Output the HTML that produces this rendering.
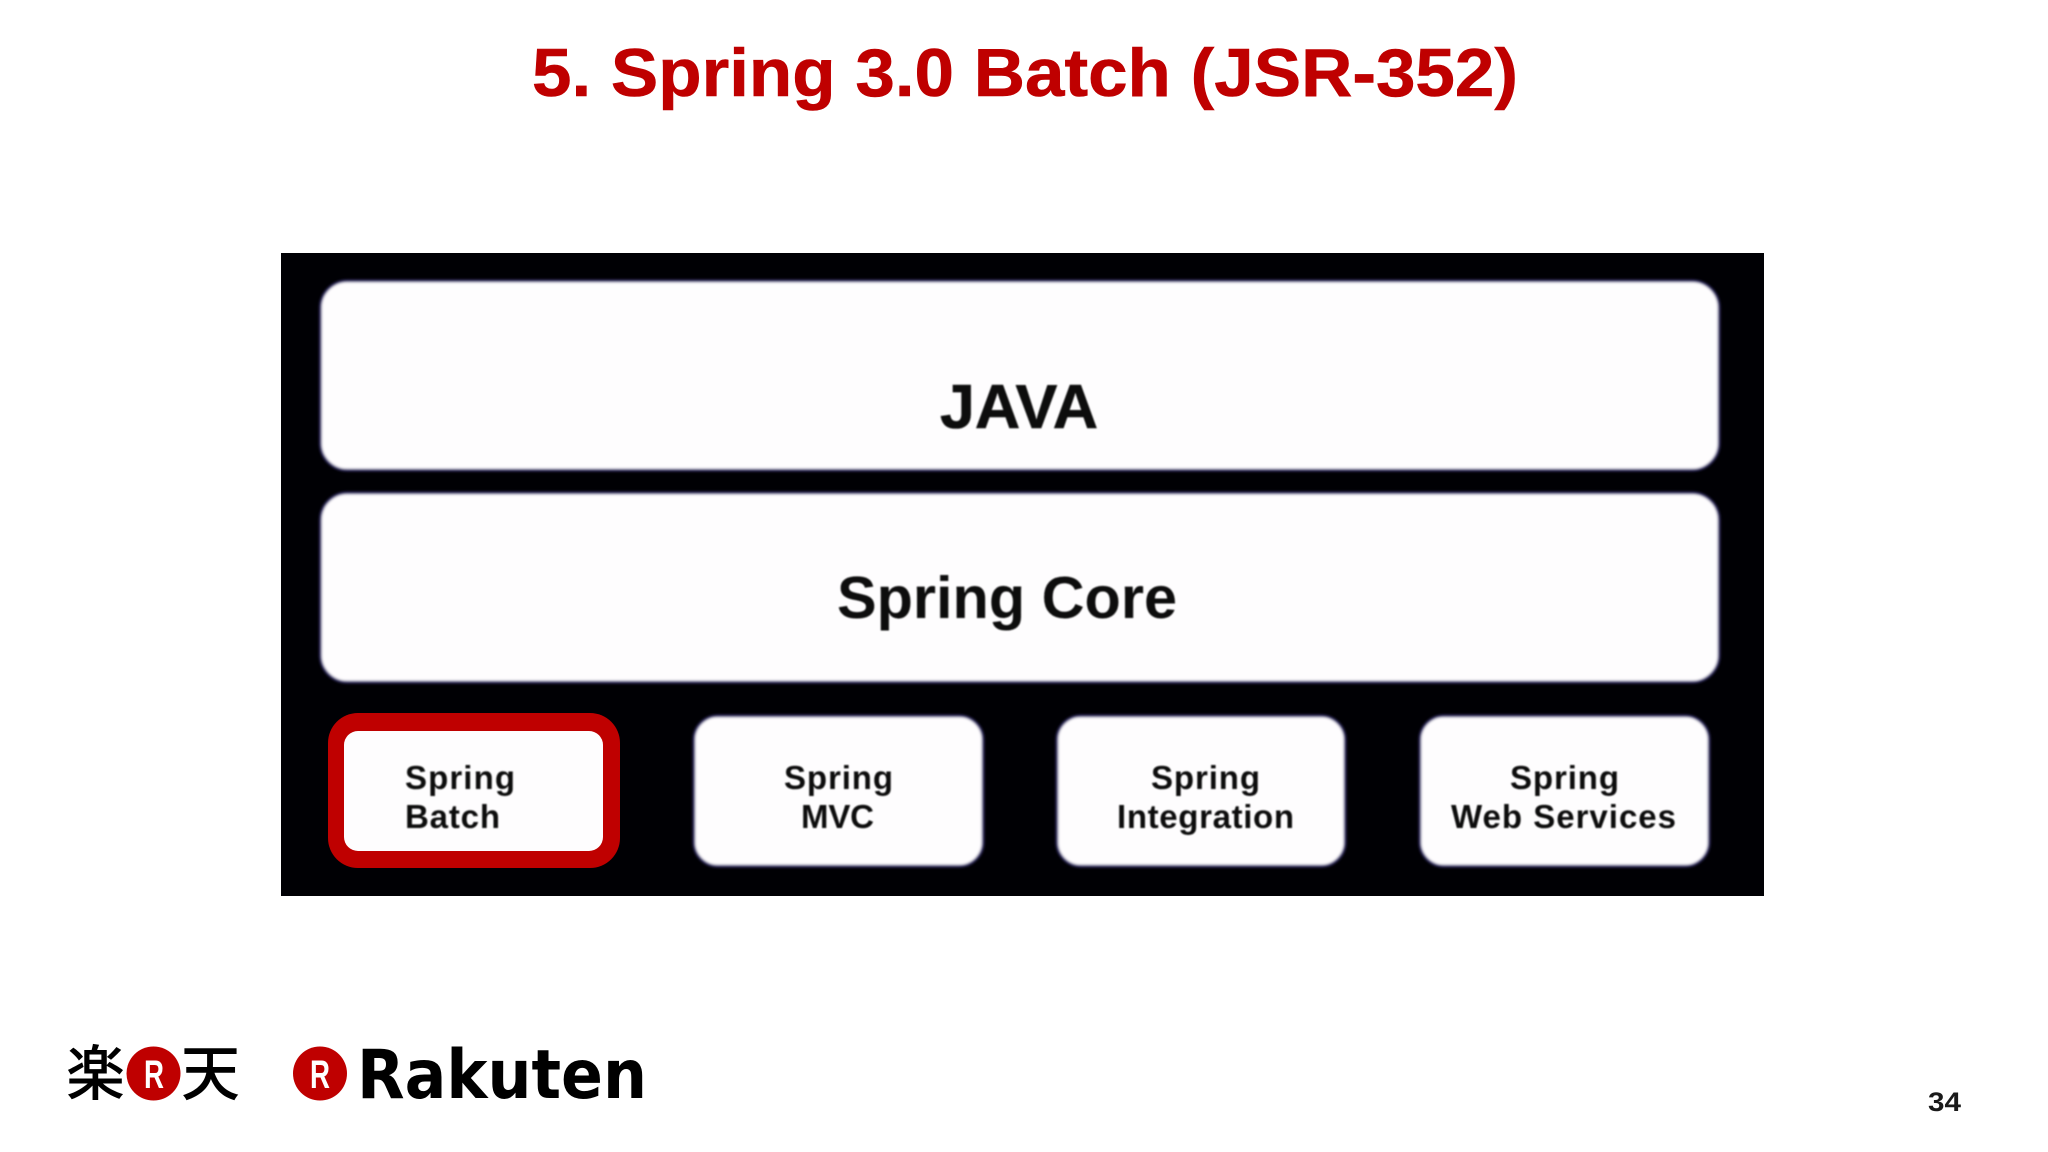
<!DOCTYPE html>
<html><head><meta charset="utf-8"><style>
html,body{margin:0;padding:0;background:#fff;width:2048px;height:1152px;overflow:hidden}
svg{display:block}
text{font-family:"Liberation Sans","Noto Sans CJK JP",sans-serif;font-weight:bold}
</style></head><body>
<svg width="2048" height="1152" viewBox="0 0 2048 1152" xmlns="http://www.w3.org/2000/svg">
<defs>
<filter id="b" x="-5%" y="-5%" width="110%" height="110%"><feGaussianBlur stdDeviation="1.2"/></filter>
<filter id="t" x="-5%" y="-20%" width="110%" height="140%"><feGaussianBlur stdDeviation="0.7"/></filter>
</defs>
<rect width="2048" height="1152" fill="#fff"/>
<text x="532" y="96" font-size="68" fill="#bf0000" stroke="#bf0000" stroke-width="0.6" textLength="986" lengthAdjust="spacingAndGlyphs">5. Spring 3.0 Batch (JSR-352)</text>

<rect x="281" y="253" width="1483" height="643" fill="#000004"/>
<g filter="url(#b)" fill="#fefdfe" stroke="#3f3a7a" stroke-width="2.5">
<rect x="320.5" y="281" width="1398.5" height="189" rx="27"/>
<rect x="320.5" y="493" width="1398.5" height="189" rx="27"/>
<rect x="694" y="716" width="289" height="150" rx="24"/>
<rect x="1057" y="716" width="288" height="150" rx="24"/>
<rect x="1420" y="716" width="289" height="150" rx="24"/>
</g>
<rect x="328" y="713" width="292" height="155" rx="30" fill="#bf0000"/>
<rect x="344" y="731" width="259" height="120" rx="14" fill="#fefdfe"/>

<g fill="#111" filter="url(#t)">
<text x="940" y="428" font-size="62" stroke="#111" stroke-width="0.6" textLength="158" lengthAdjust="spacingAndGlyphs">JAVA</text>
<text x="837" y="618" font-size="59" textLength="340" lengthAdjust="spacingAndGlyphs">Spring Core</text>
<g font-size="33">
<text x="405" y="789" textLength="110" lengthAdjust="spacing">Spring</text>
<text x="405" y="828" textLength="95" lengthAdjust="spacing">Batch</text>
<text x="784" y="789" textLength="109" lengthAdjust="spacing">Spring</text>
<text x="801" y="828" textLength="73" lengthAdjust="spacing">MVC</text>
<text x="1151" y="789" textLength="109" lengthAdjust="spacing">Spring</text>
<text x="1117" y="828" textLength="177" lengthAdjust="spacing">Integration</text>
<text x="1510" y="789" textLength="109" lengthAdjust="spacing">Spring</text>
<text x="1451" y="828" textLength="225" lengthAdjust="spacing">Web Services</text>
</g>
</g>

<text x="66" y="1095" font-size="60" fill="#000" style="font-weight:500" textLength="59" lengthAdjust="spacingAndGlyphs">楽</text>
<circle cx="153.5" cy="1073.5" r="27" fill="#bf0000"/>
<text x="144" y="1088" font-size="40" fill="#fff" textLength="20" lengthAdjust="spacingAndGlyphs">R</text>
<text x="181" y="1095" font-size="60" fill="#000" style="font-weight:500" textLength="59" lengthAdjust="spacingAndGlyphs">天</text>
<circle cx="320" cy="1073.5" r="27" fill="#bf0000"/>
<text x="310" y="1088" font-size="40" fill="#fff" textLength="20" lengthAdjust="spacingAndGlyphs">R</text>
<text x="357" y="1098" font-size="68" fill="#000" style="font-family:'DejaVu Sans',sans-serif" textLength="290" lengthAdjust="spacingAndGlyphs">Rakuten</text>

<text x="1928" y="1111" font-size="27" fill="#1a1a1a" textLength="33" lengthAdjust="spacingAndGlyphs">34</text>
</svg>
</body></html>
